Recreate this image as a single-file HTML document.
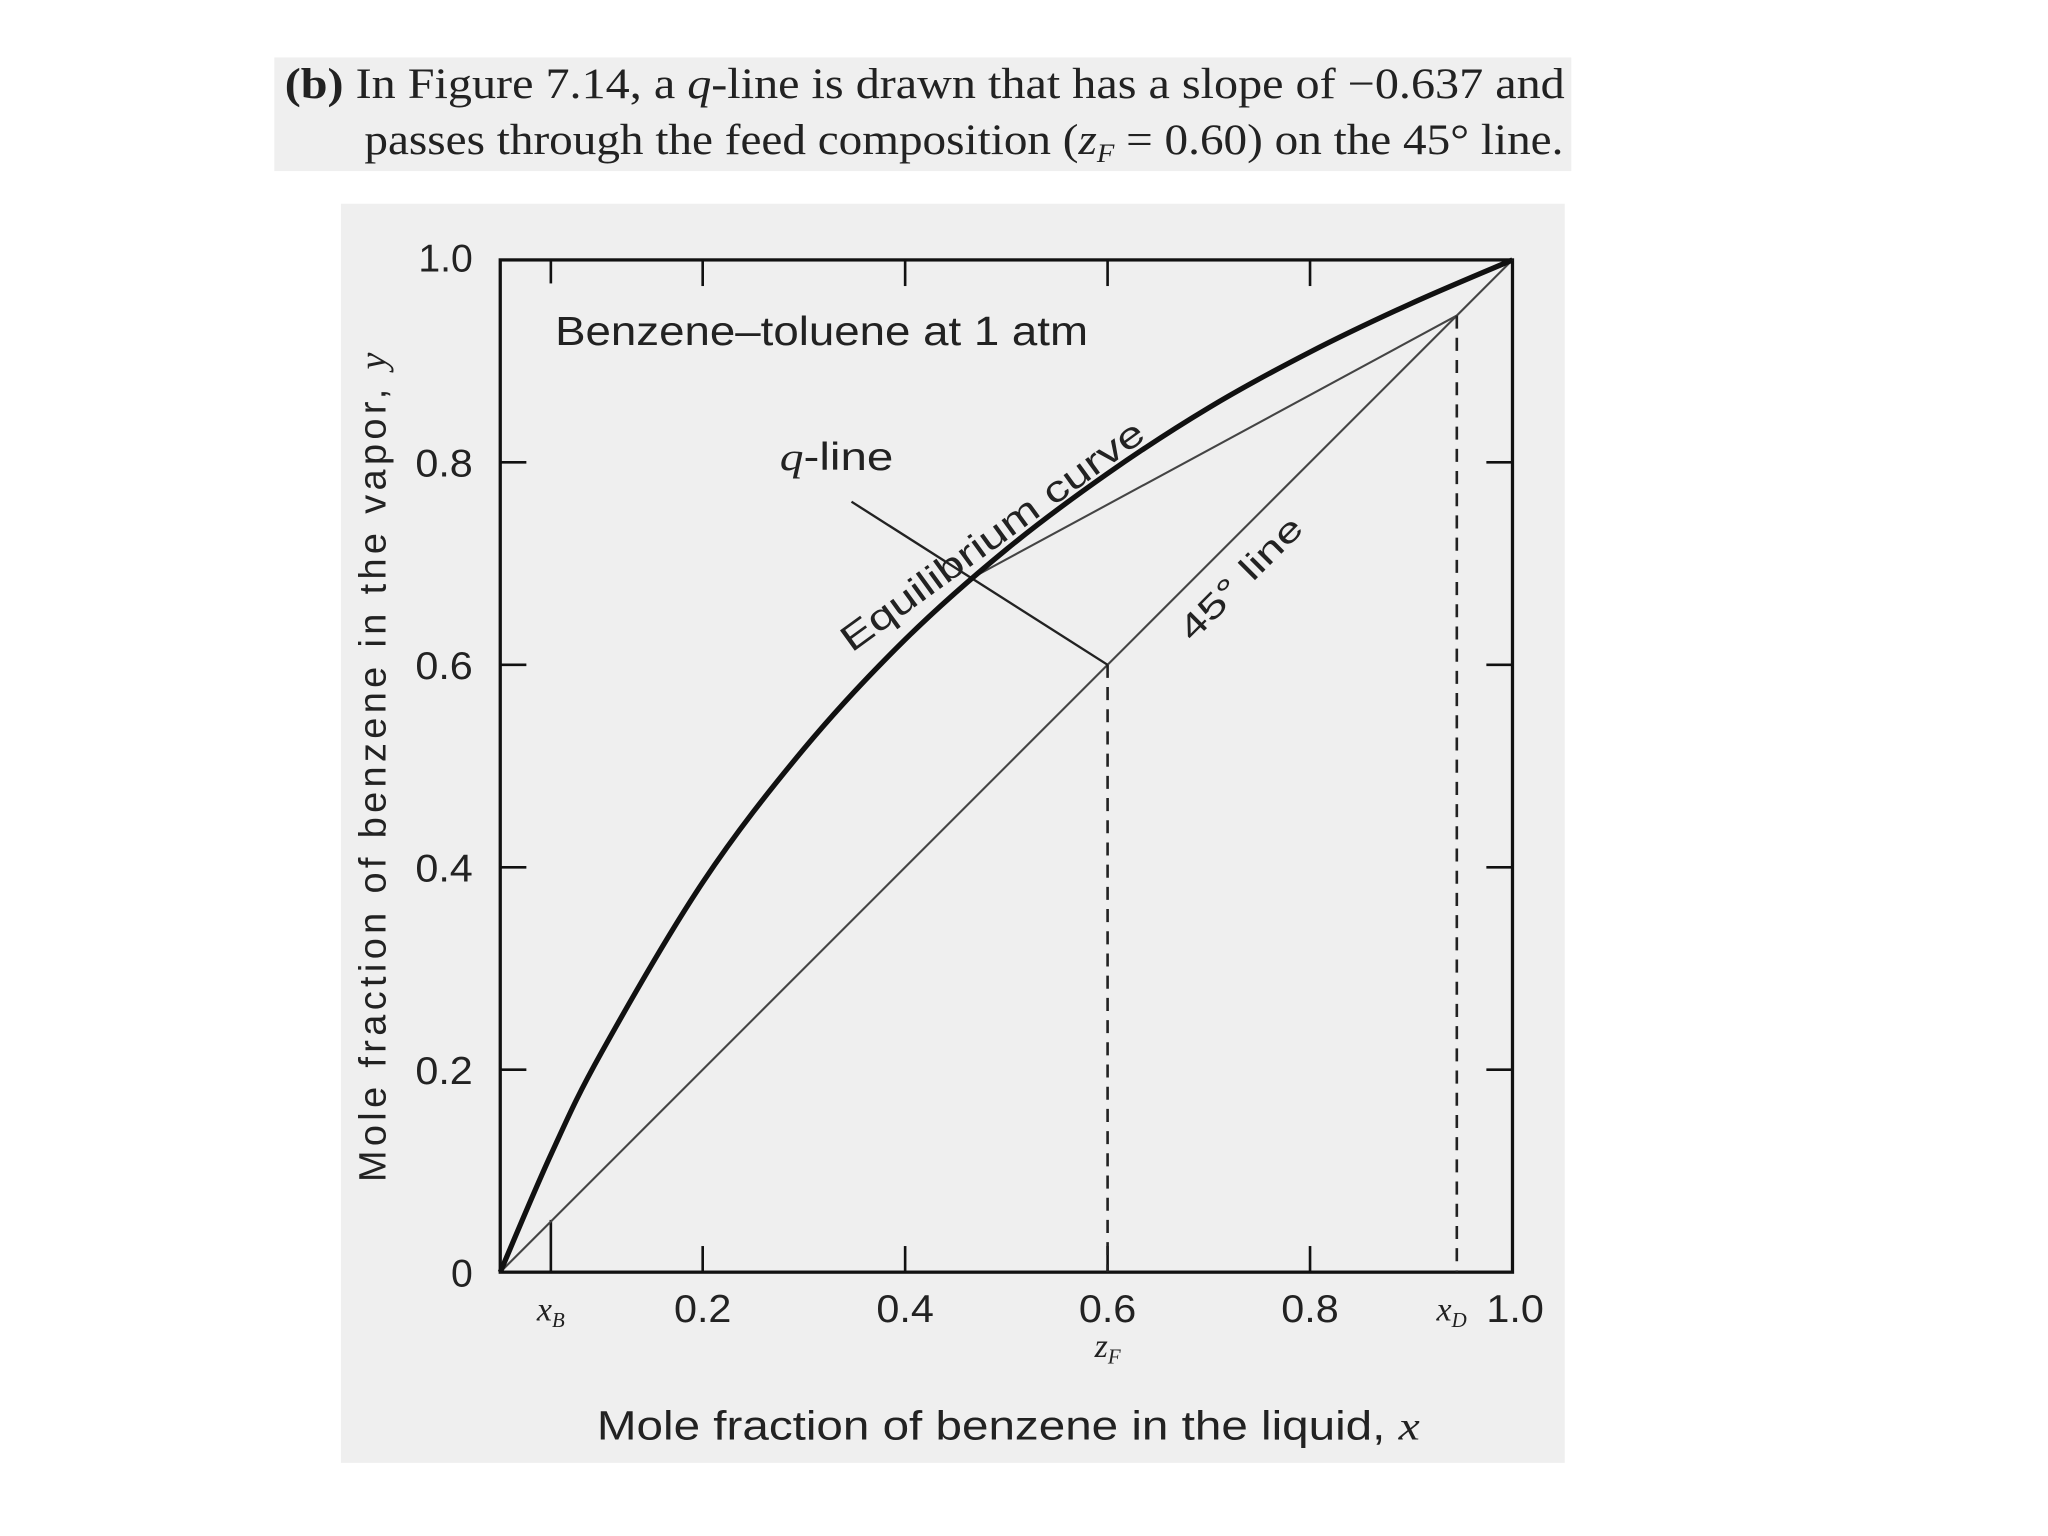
<!DOCTYPE html>
<html><head><meta charset="utf-8"><style>
html,body{margin:0;padding:0;background:#fff;}
svg{display:block;}
.s{font-family:"Liberation Sans",sans-serif;fill:#222;}
.r{font-family:"Liberation Serif",serif;fill:#222;}
</style></head><body>
<svg id="chart" width="2048" height="1536" viewBox="0 0 1568 1176" xmlns="http://www.w3.org/2000/svg">
<rect x="210" y="44" width="993" height="87" fill="#efefef"/>
<text class="r" x="218" y="75" font-size="33" textLength="980" lengthAdjust="spacingAndGlyphs"><tspan font-weight="bold">(b)</tspan> In Figure 7.14, a <tspan font-style="italic">q</tspan>-line is drawn that has a slope of −0.637 and</text>
<text class="r" x="279" y="118" font-size="33" textLength="918" lengthAdjust="spacingAndGlyphs">passes through the feed composition (<tspan font-style="italic">z</tspan><tspan font-style="italic" font-size="20" dy="6">F</tspan><tspan dy="-6"> = 0.60) on the 45° line.</tspan></text>
<rect x="261" y="156" width="937" height="964" fill="#efefef"/>
<g id="plot"></g>
<text class="s" x="425" y="264" font-size="31" textLength="408" lengthAdjust="spacingAndGlyphs">Benzene–toluene at 1 atm</text>
<text class="s" x="597" y="360" font-size="30" textLength="87" lengthAdjust="spacingAndGlyphs"><tspan font-family="Liberation Serif" font-style="italic">q</tspan>-line</text>
<text class="s" font-size="28" textLength="280" lengthAdjust="spacingAndGlyphs" transform="translate(652,500) rotate(-36)">Equilibrium curve</text>
<text class="s" font-size="26" textLength="122" lengthAdjust="spacingAndGlyphs" transform="translate(913,492) rotate(-45)">45° line</text>
<text class="s" x="457" y="1102" font-size="31" textLength="630" lengthAdjust="spacingAndGlyphs">Mole fraction of benzene in the liquid, <tspan font-family="Liberation Serif" font-style="italic">x</tspan></text>
<text class="s" font-size="29" textLength="635" lengthAdjust="spacing" transform="translate(295,905) rotate(-90)">Mole fraction of benzene in the vapor, <tspan font-family="Liberation Serif" font-style="italic">y</tspan></text>
</svg>
<script>
const eqX=[0,0.05,0.1,0.2,0.3,0.4,0.5,0.6,0.7,0.8,0.9,1];
const eqY=[0,0.116,0.217,0.385,0.517,0.625,0.714,0.789,0.854,0.909,0.957,1];
const xTicks=[0.2,0.4,0.6,0.8];
const yTicks=[0.2,0.4,0.6,0.8];
const xTickLabels=["0.2","0.4","0.6","0.8"];
const yTickLabels=["0.2","0.4","0.6","0.8"];
const zF=0.6, xB=0.05, xD=0.945;
const qSlope=-0.637, qEndX=0.347;
const pinchX=0.47, pinchY=0.688;
const L=383,R=1158,T=199,B=974;
const sx=v=>L+(R-L)*v, sy=v=>B-(B-T)*v;
const NS="http://www.w3.org/2000/svg";
const g=document.getElementById('plot');
function mk(tag,at){const e=document.createElementNS(NS,tag);for(const k in at)e.setAttribute(k,at[k]);g.appendChild(e);return e;}
function line(x1,y1,x2,y2,w,dash,col){return mk('line',{x1:sx(x1),y1:sy(y1),x2:sx(x2),y2:sy(y2),stroke:col||'#222','stroke-width':w,'stroke-dasharray':dash||'none'});}
const fr=mk('rect',{x:L,y:T,width:R-L,height:B-T,fill:'none',stroke:'#111','stroke-width':2.5});


const tl=20;
xTicks.forEach((v,i)=>{
 const a=mk('line',{x1:sx(v),x2:sx(v),y1:B,y2:B-tl,stroke:'#111','stroke-width':2});
 
 
 const b=mk('line',{x1:sx(v),x2:sx(v),y1:T,y2:T+tl,stroke:'#111','stroke-width':2});
 
 
 const t=mk('text',{x:sx(v),y:B+38,'font-size':30,'text-anchor':'middle',class:'s',textLength:44,lengthAdjust:'spacingAndGlyphs'});t.textContent=xTickLabels[i];
 
 
});
yTicks.forEach((v,i)=>{
 const a=mk('line',{x1:L,x2:L+tl,y1:sy(v),y2:sy(v),stroke:'#111','stroke-width':2});
 
 
 const b=mk('line',{x1:R,x2:R-tl,y1:sy(v),y2:sy(v),stroke:'#111','stroke-width':2});
 
 
 const t=mk('text',{x:L-21,y:sy(v)+11,'font-size':30,'text-anchor':'end',class:'s',textLength:44,lengthAdjust:'spacingAndGlyphs'});t.textContent=yTickLabels[i];
 
 
});
[['1.0',sy(1)+9],['0',sy(0)+11]].forEach(([s,y])=>{const t=mk('text',{x:L-21,y:y,'font-size':30,'text-anchor':'end',class:'s'});t.textContent=s;
 
 });
const t1=mk('text',{x:sx(1)+2,y:B+38,'font-size':30,'text-anchor':'middle',class:'s',textLength:44,lengthAdjust:'spacingAndGlyphs'});t1.textContent='1.0';


[[B,B-40],[T,T+18]].forEach(([a,b])=>{const e=mk('line',{x1:sx(xB),x2:sx(xB),y1:a,y2:b,stroke:'#111','stroke-width':2});

});
const xbL=mk('text',{x:sx(xB),y:B+37,'font-size':26,'text-anchor':'middle',class:'r','font-style':'italic'});xbL.innerHTML='x<tspan font-size="16" dy="5">B</tspan>';


const xdL=mk('text',{x:sx(xD)-4,y:B+37,'font-size':26,'text-anchor':'middle',class:'r','font-style':'italic'});xdL.innerHTML='x<tspan font-size="16" dy="5">D</tspan>';


const zfL=mk('text',{x:sx(zF),y:B+65,'font-size':26,'text-anchor':'middle',class:'r','font-style':'italic'});zfL.innerHTML='z<tspan font-size="16" dy="5">F</tspan>';


const d45=line(0,0,1,1,1.6,null,'#444');


const op=line(xD,xD,pinchX,pinchY,1.6,null,'#444');


const ql=line(zF,zF,qEndX,zF+qSlope*(qEndX-zF),1.8);


const dz=line(zF,zF,zF,0,2,'10,7');


const dd=line(xD,xD,xD,0,2,'10,7');


const P=eqX.map((x,i)=>[sx(x),sy(eqY[i])]);
let d='M'+P[0][0]+','+P[0][1];
for(let i=0;i<P.length-1;i++){const p0=P[Math.max(0,i-1)],p1=P[i],p2=P[i+1],p3=P[Math.min(P.length-1,i+2)];
d+=' C'+(p1[0]+(p2[0]-p0[0])/6)+','+(p1[1]+(p2[1]-p0[1])/6)+' '+(p2[0]-(p3[0]-p1[0])/6)+','+(p2[1]-(p3[1]-p1[1])/6)+' '+p2[0]+','+p2[1];}
const eq=mk('path',{d:d,fill:'none',stroke:'#111','stroke-width':4});


</script>
</body></html>
